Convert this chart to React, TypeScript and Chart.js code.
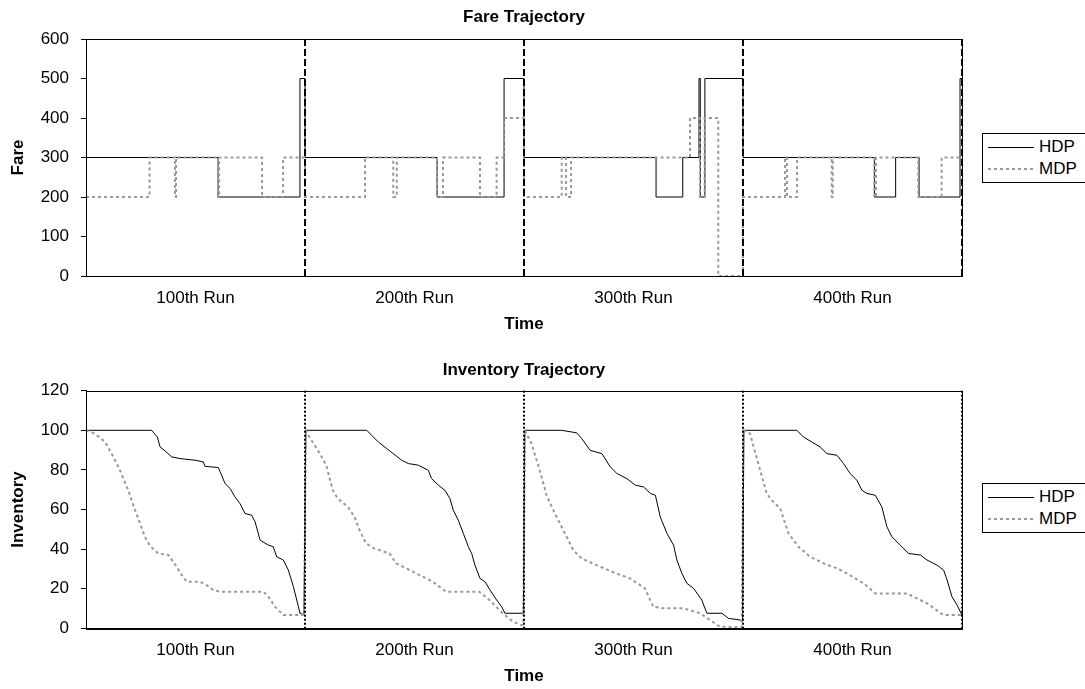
import React, { useEffect, useRef } from 'react';
import { Chart, registerables } from 'chart.js';

Chart.register(...registerables);

const FONT = '"Liberation Sans", Arial, Helvetica, sans-serif';

// ---- categories / ticks ----
const runLabels = ['100th Run', '200th Run', '300th Run', '400th Run'];
const runCenters = [50, 150, 250, 350];
const runBoundaries = [100, 200, 300, 400];
const seriesNames = ['HDP', 'MDP'];

// ---- Fare trajectory (step changes: time, fare) ----
const hdpFareTime = [0, 60.3, 97.7, 100, 160.3, 190.9, 200, 260.3, 272.5, 279.9, 280.5, 282.6, 300, 360, 369.7, 380.4, 399.1, 400];
const hdpFare = [300, 200, 500, 300, 200, 500, 300, 200, 300, 500, 200, 500, 300, 200, 300, 200, 500, 500];

const mdpFareTime = [0, 29, 40.6, 41.1, 60.3, 60.8, 80.4, 90, 100, 127.4, 140.3, 141.9, 160.3, 163, 179.9, 187.5, 190.9, 200, 217.2, 219.2, 221.5, 275.8, 280.3, 282.5, 288.7, 300, 319.2, 320.1, 324.7, 340.5, 341, 360, 360.7, 380, 390.7, 400];
const mdpFare = [200, 300, 200, 300, 200, 300, 200, 300, 200, 300, 200, 300, 200, 300, 200, 300, 400, 200, 300, 200, 300, 400, 200, 400, 0, 200, 300, 200, 300, 200, 300, 200, 300, 200, 300, 300];

// ---- Inventory trajectory (time, inventory) ----
const hdpInvTime = [
  0, 30, 32.6, 33.8, 36.1, 39.1, 42.9, 49.8, 53.6, 54.3, 60.4, 63.5, 65.8, 68, 70.3, 72.6, 75.6, 77.2, 79.5, 83.3, 85.5, 87.1, 90.1, 92.4, 94.7, 97, 97.7, 99.5,
  100.4, 128.2, 130.4, 133.5, 137.3, 140.3, 144.1, 147.2, 151.7, 156.3, 157.8, 160.9, 163.9, 166.2, 167.7, 170, 172.3, 174.6, 176.1, 177.6, 179.9, 182.2, 184.5, 187.5, 189.8, 191.3, 199.7,
  200.4, 217.2, 224.1, 226.4, 230.2, 235.6, 239.4, 242.4, 247, 250.8, 254.6, 257.7, 260, 262.2, 265.3, 268.3, 269.8, 272.1, 274.4, 277.4, 281.2, 283.5, 290.4, 293.4, 298.7, 299.8,
  300.4, 324.6, 327.6, 331.4, 335.2, 338.3, 342.9, 345.9, 348.9, 352, 354.3, 356.6, 360.4, 363.4, 365.7, 368, 371.8, 375.6, 381, 384, 388.6, 391.6, 393.2, 395.4, 397.7, 400
];
const hdpInv = [
  100, 100, 96.6, 91.6, 89.6, 86.6, 85.7, 84.9, 84, 81.8, 81.2, 73.1, 70.6, 66.4, 63, 58, 57.1, 53.8, 44.5, 42, 41.2, 36.1, 34.5, 29.4, 21, 10.9, 7.6, 6.7,
  100, 100, 97.5, 94.1, 90.8, 88.2, 84.9, 83.2, 82.4, 79.8, 75.6, 72.3, 69.7, 65.5, 59.7, 54.6, 47.9, 41.2, 37.8, 31.9, 25.2, 23.5, 19.3, 14.3, 10.9, 7.6, 7.6,
  100, 100, 98.7, 95.8, 89.9, 88.2, 81.5, 78.2, 75.6, 72.3, 71.4, 68.1, 67.2, 56.3, 47.9, 42, 34.5, 27.7, 22.7, 20.2, 14.3, 7.6, 7.6, 5, 4.2, 3.4,
  100, 100, 96.6, 94.1, 91.6, 88.2, 87.4, 83.2, 78.2, 74.8, 69.7, 68.1, 67.2, 61.3, 51.3, 46.2, 42, 37.8, 37, 34.5, 31.9, 29.4, 24.4, 16, 11.8, 6.7
];

const mdpInvTime = [
  0, 4.1, 8.7, 12.5, 15.5, 19.3, 22.4, 24.7, 26.9, 29.2, 33, 37.6, 39.9, 43.7, 46, 52.1, 55.1, 58.1, 61.2, 81, 83.3, 86.3, 90.1, 98.5, 99.6,
  100.4, 102, 105.9, 109.7, 112.7, 115, 119.6, 122.6, 124.9, 127.9, 131.7, 138.6, 141.6, 149.2, 158.4, 164.4, 179.6, 184.2, 190.3, 194.9, 198.7, 199.7,
  200.4, 203.4, 207.2, 210.3, 214.1, 217.9, 222.5, 226.3, 233.1, 242.2, 248.4, 255.2, 259, 263.6, 272.8, 280.4, 284.9, 289.5, 299.4,
  300.2, 303.2, 307, 310.8, 313.1, 317, 320.8, 325.3, 330.7, 336.8, 342.9, 347.4, 355.1, 360.4, 374.9, 384, 391.6, 400
];
const mdpInv = [
  100, 98.3, 94.1, 86.6, 79.8, 69.7, 59.7, 52.9, 46.2, 41.7, 37.8, 37, 33.6, 26.9, 23.5, 23.5, 21.8, 19.3, 18.5, 18.5, 16, 10.9, 6.7, 6.7, 7.6,
  100, 96.6, 89.9, 82.4, 69.7, 65.5, 61.3, 56.3, 49.6, 42.9, 40.3, 37.8, 32.8, 28.6, 23.5, 18.5, 18.5, 14.3, 7.6, 3.4, 1.7, 1.7,
  100, 93.3, 79.8, 67.2, 58, 49.6, 39.5, 35.3, 31.9, 27.7, 25.2, 20.2, 10.9, 10.1, 10.1, 7.6, 4.2, 0.8, 0.5,
  100, 98.3, 83.2, 68.1, 64.7, 60.5, 47.9, 41.2, 36.1, 32.8, 30.3, 27.7, 22.7, 17.6, 17.6, 12.6, 6.7, 6.7
];

const toPoints = (xs: number[], ys: number[]) => xs.map((x, i) => ({ x, y: ys[i] }));

const framePlugin = {
  id: 'frame',
  afterDatasetsDraw(chart: any, _args: any, opts: any) {
    const { ctx, chartArea, scales } = chart;
    const { left, top, right, bottom } = chartArea;
    ctx.save();
    ctx.strokeStyle = '#000';
    ctx.lineWidth = 1;
    ctx.setLineDash([]);
    ctx.strokeRect(Math.round(left) + 0.5, Math.round(top) + 0.5, Math.round(right - left), Math.round(bottom - top));
    ctx.lineWidth = opts.width || 2;
    ctx.setLineDash(opts.dash || [6, 3]);
    runBoundaries.forEach((b) => {
      const px = Math.round(scales.x.getPixelForValue(b));
      ctx.beginPath();
      ctx.moveTo(px, top);
      ctx.lineTo(px, bottom);
      ctx.stroke();
    });
    ctx.restore();
  },
};

type ChartProps = {
  height: number;
  title: string;
  titlePad: { top: number; bottom: number };
  yTitle: string;
  yMax: number;
  yStep: number;
  xAxisHeight: number;
  xTitlePadBottom: number;
  hdp: { x: number; y: number }[];
  mdp: { x: number; y: number }[];
  stepped: boolean;
  sepDash: number[];
};

function TrajectoryChart(p: ChartProps) {
  const ref = useRef<HTMLCanvasElement | null>(null);
  useEffect(() => {
    if (!ref.current) return;
    const chart = new Chart(ref.current, {
      type: 'line',
      data: {
        datasets: [
          {
            label: seriesNames[0],
            data: p.hdp,
            borderColor: '#000000',
            borderWidth: 1,
            pointRadius: 0,
            fill: false,
            stepped: p.stepped ? 'before' : false,
            tension: 0,
            order: 1,
            clip: 4,
          },
          {
            label: seriesNames[1],
            data: p.mdp,
            borderColor: '#999999',
            borderWidth: 2,
            borderDash: [3, 3],
            pointRadius: 0,
            fill: false,
            stepped: p.stepped ? 'before' : false,
            tension: 0,
            order: 0,
            clip: 4,
          },
        ],
      } as any,
      options: {
        animation: false,
        responsive: false,
        maintainAspectRatio: false,
        layout: { padding: { left: 0, right: 123, top: 0, bottom: 0 } },
        font: { family: FONT },
        plugins: {
          legend: { display: false },
          tooltip: { enabled: false },
          title: {
            display: true,
            text: p.title,
            fullSize: false,
            color: '#000',
            font: { family: FONT, size: 17, weight: 'bold' },
            padding: p.titlePad,
          },
          frame: { dash: p.sepDash, width: 2 },
        } as any,
        scales: {
          x: {
            type: 'linear',
            min: 0,
            max: 400,
            afterBuildTicks: (s: any) => {
              s.ticks = runCenters.map((v) => ({ value: v }));
            },
            afterFit: (s: any) => {
              s.height = p.xAxisHeight;
            },
            ticks: {
              autoSkip: false,
              maxRotation: 0,
              padding: 12,
              color: '#000',
              font: { family: FONT, size: 17 },
              callback: (_v: any, i: number) => runLabels[i],
            },
            grid: { display: false, drawTicks: false },
            border: { display: true, color: '#000', width: 1 },
            title: {
              display: true,
              text: 'Time',
              color: '#000',
              font: { family: FONT, size: 17, weight: 'bold' },
              padding: { top: 0, bottom: p.xTitlePadBottom },
            },
          },
          y: {
            min: 0,
            max: p.yMax,
            afterFit: (s: any) => {
              s.width = 86;
            },
            ticks: {
              stepSize: p.yStep,
              padding: 12,
              color: '#000',
              font: { family: FONT, size: 17 },
            },
            grid: { drawOnChartArea: false, drawTicks: true, tickLength: 5, color: '#000' },
            border: { display: true, color: '#000', width: 1 },
            title: {
              display: true,
              text: p.yTitle,
              color: '#000',
              font: { family: FONT, size: 17, weight: 'bold' },
              padding: { top: 8, bottom: 0 },
            },
          },
        },
      } as any,
      plugins: [framePlugin],
    });
    return () => chart.destroy();
  }, []);
  return <canvas ref={ref} width={1085} height={p.height} style={{ display: 'block', width: 1085, height: p.height }} />;
}

function LegendBox({ top }: { top: number }) {
  return (
    <div
      style={{
        position: 'absolute',
        left: 982,
        top,
        width: 120,
        height: 50,
        border: '1px solid #000',
        boxSizing: 'border-box',
        background: '#fff',
        fontFamily: FONT,
        fontSize: 17,
        color: '#000',
      }}
    >
      {seriesNames.map((name, i) => (
        <div key={name} style={{ position: 'absolute', left: 0, top: 3 + i * 22, height: 20, width: 118 }}>
          <svg width={48} height={20} style={{ position: 'absolute', left: 5, top: 0 }}>
            {i === 0 ? (
              <line x1={0} y1={10.5} x2={46} y2={10.5} stroke="#000" strokeWidth={1} />
            ) : (
              <line x1={0} y1={10} x2={46} y2={10} stroke="#999" strokeWidth={2} strokeDasharray="3 3" />
            )}
          </svg>
          <span style={{ position: 'absolute', left: 56, top: 0, lineHeight: '20px' }}>{name}</span>
        </div>
      ))}
    </div>
  );
}

export default function App() {
  return (
    <div style={{ position: 'fixed', left: 0, top: 0, width: 1085, height: 689, background: '#fff', overflow: 'hidden' }}>
      <div style={{ position: 'absolute', left: 0, top: 0 }}>
        <TrajectoryChart
          height={345}
          title="Fare Trajectory"
          titlePad={{ top: 7, bottom: 11.6 }}
          yTitle="Fare"
          yMax={600}
          yStep={100}
          xAxisHeight={69}
          xTitlePadBottom={10.8}
          hdp={toPoints(hdpFareTime, hdpFare)}
          mdp={toPoints(mdpFareTime, mdpFare)}
          stepped={true}
          sepDash={[7, 3]}
        />
      </div>
      <div style={{ position: 'absolute', left: 0, top: 345 }}>
        <TrajectoryChart
          height={344}
          title="Inventory Trajectory"
          titlePad={{ top: 14.8, bottom: 10.5 }}
          yTitle="Inventory"
          yMax={120}
          yStep={20}
          xAxisHeight={60.7}
          xTitlePadBottom={2}
          hdp={toPoints(hdpInvTime, hdpInv)}
          mdp={toPoints(mdpInvTime, mdpInv)}
          stepped={false}
          sepDash={[2, 2]}
        />
      </div>
      <LegendBox top={133} />
      <LegendBox top={483} />
    </div>
  );
}
